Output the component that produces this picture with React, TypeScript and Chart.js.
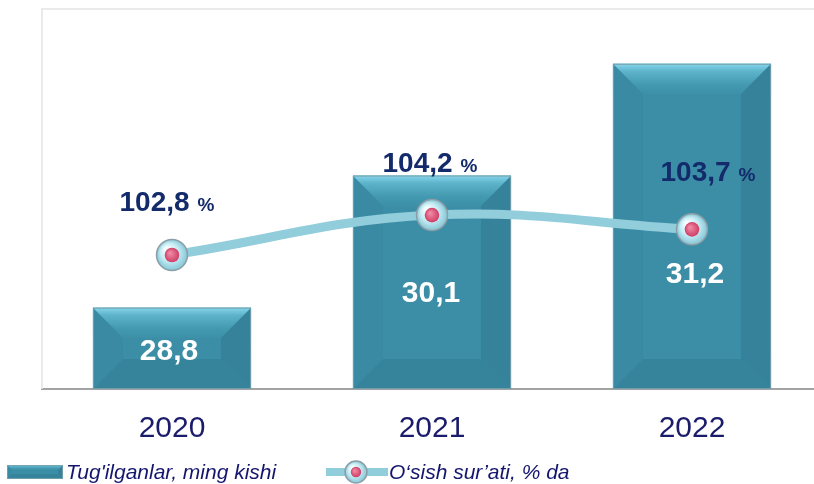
import React, { useEffect, useRef } from "react";
import { Chart, registerables } from "chart.js";

Chart.register(...registerables);

const YEARS = ["2020", "2021", "2022"];
const BIRTHS = [28.8, 30.1, 31.2];
const GROWTH = [102.8, 104.2, 103.7];
const LEGEND_BARS = "Tug'ilganlar, ming kishi";
const LEGEND_LINE = "O\u2018sish sur\u2019ati, % da";

const Y_MIN = 28;
const Y_MAX = 31.74;
const Y2_MIN = 98.1;
const Y2_MAX = 111.43;

// label layout offsets (px)
const PCT_OFFSETS = [[-5, -44], [-2, -43], [16, -48]];
const VAL_OFFSETS = [[-3, 52], [-1, 126], [3, 219]];

const FONT = "'Liberation Sans', Arial, sans-serif";
const NAVY = "#132a6b";

const fmt = (v: number) => v.toFixed(1).replace(".", ",");

function drawBevelBar(ctx: CanvasRenderingContext2D, L: number, T: number, R: number, B: number, maxB: number) {
  const h = B - T;
  const b = Math.max(2, Math.min(maxB, h / 2 - 2));
  ctx.save();
  ctx.fillStyle = "#3b8ea6";
  ctx.fillRect(L, T, R - L, B - T);
  const poly = (pts: number[][], fill: string | CanvasGradient) => {
    ctx.beginPath();
    ctx.moveTo(pts[0][0], pts[0][1]);
    for (let i = 1; i < pts.length; i++) ctx.lineTo(pts[i][0], pts[i][1]);
    ctx.closePath();
    ctx.fillStyle = fill;
    ctx.fill();
  };
  poly([[L, T], [L + b, T + b], [L + b, B - b], [L, B]], "#398aa2");
  poly([[R, T], [R - b, T + b], [R - b, B - b], [R, B]], "#35829a");
  poly([[L, B], [L + b, B - b], [R - b, B - b], [R, B]], "#36849b");
  const g = ctx.createLinearGradient(0, T, 0, T + b);
  g.addColorStop(0, "#86d6ec");
  g.addColorStop(0.25, "#5db3ca");
  g.addColorStop(0.7, "#4299b0");
  g.addColorStop(1, "#3d91a9");
  poly([[L, T], [R, T], [R - b, T + b], [L + b, T + b]], g);
  ctx.strokeStyle = "rgba(120,160,172,0.9)";
  ctx.lineWidth = 1;
  ctx.strokeRect(L + 0.5, T + 0.5, R - L - 1, B - T - 1);
  ctx.restore();
}

function drawMarker(ctx: CanvasRenderingContext2D, x: number, y: number, r: number) {
  ctx.save();
  const g = ctx.createRadialGradient(x - r * 0.35, y - r * 0.4, r * 0.1, x, y, r);
  g.addColorStop(0, "#f6feff");
  g.addColorStop(0.55, "#c4ebf3");
  g.addColorStop(1, "#84c6d6");
  ctx.beginPath();
  ctx.arc(x, y, r, 0, Math.PI * 2);
  ctx.fillStyle = g;
  ctx.fill();
  ctx.lineWidth = 1.5;
  ctx.strokeStyle = "#8d9ea6";
  ctx.stroke();
  const ri = r * 0.47;
  const g2 = ctx.createRadialGradient(x - ri * 0.3, y - ri * 0.3, ri * 0.1, x, y, ri);
  g2.addColorStop(0, "#f08aa4");
  g2.addColorStop(1, "#cf3e67");
  ctx.beginPath();
  ctx.arc(x, y, ri, 0, Math.PI * 2);
  ctx.fillStyle = g2;
  ctx.fill();
  ctx.restore();
}

const decorPlugin = {
  id: "decor",
  beforeDatasetsDraw(chart: any) {
    const { ctx, chartArea } = chart;
    ctx.save();
    ctx.strokeStyle = "#e4e4e4";
    ctx.lineWidth = 1.5;
    ctx.beginPath();
    ctx.moveTo(chartArea.left, chartArea.bottom);
    ctx.lineTo(chartArea.left, chartArea.top);
    ctx.lineTo(chartArea.right, chartArea.top);
    ctx.stroke();
    ctx.restore();
  },
  afterDatasetDraw(chart: any, args: any) {
    if (args.index !== 0) return;
    const { ctx } = chart;
    const meta = chart.getDatasetMeta(0);
    meta.data.forEach((bar: any) => {
      const p = bar.getProps(["x", "y", "base", "width"], true);
      drawBevelBar(ctx, p.x - p.width / 2, p.y, p.x + p.width / 2, p.base, 30);
    });
  },
  afterDatasetsDraw(chart: any) {
    const { ctx } = chart;
    const barMeta = chart.getDatasetMeta(0);
    const lineMeta = chart.getDatasetMeta(1);
    ctx.save();
    ctx.fillStyle = "#ffffff";
    ctx.font = `bold 30px ${FONT}`;
    ctx.textAlign = "center";
    ctx.textBaseline = "alphabetic";
    barMeta.data.forEach((bar: any, i: number) => {
      const p = bar.getProps(["x", "y"], true);
      ctx.fillText(fmt(BIRTHS[i]), p.x + VAL_OFFSETS[i][0], p.y + VAL_OFFSETS[i][1]);
    });
    lineMeta.data.forEach((pt: any) => {
      const p = pt.getProps(["x", "y"], true);
      drawMarker(ctx, p.x, p.y, 15.5);
    });
    lineMeta.data.forEach((pt: any, i: number) => {
      const p = pt.getProps(["x", "y"], true);
      const num = fmt(GROWTH[i]);
      ctx.font = `bold 28px ${FONT}`;
      const w1 = ctx.measureText(num).width;
      const gap = 8;
      ctx.font = `bold 19px ${FONT}`;
      const w2 = ctx.measureText("%").width;
      const total = w1 + gap + w2;
      const cx = p.x + PCT_OFFSETS[i][0];
      const by = p.y + PCT_OFFSETS[i][1];
      const x0 = cx - total / 2;
      ctx.textAlign = "left";
      ctx.fillStyle = NAVY;
      ctx.font = `bold 28px ${FONT}`;
      ctx.fillText(num, x0, by);
      ctx.font = `bold 19px ${FONT}`;
      ctx.fillText("%", x0 + w1 + gap, by);
    });
    ctx.restore();
  },
  afterDraw(chart: any) {
    const { ctx } = chart;
    ctx.save();
    drawBevelBar(ctx, 7, 465, 63, 479, 6);
    ctx.fillStyle = "#14166e";
    ctx.font = `italic 21px ${FONT}`;
    ctx.textAlign = "left";
    ctx.textBaseline = "alphabetic";
    ctx.fillText(LEGEND_BARS, 66, 479);
    ctx.strokeStyle = "#92cddc";
    ctx.lineWidth = 8;
    ctx.lineCap = "butt";
    ctx.beginPath();
    ctx.moveTo(326, 472);
    ctx.lineTo(388, 472);
    ctx.stroke();
    drawMarker(ctx, 356, 472, 11);
    ctx.fillStyle = "#14166e";
    ctx.fillText(LEGEND_LINE, 389, 479);
    ctx.restore();
  },
};

export default function App() {
  const ref = useRef<HTMLCanvasElement | null>(null);
  useEffect(() => {
    document.body.style.margin = "0";
    const canvas = ref.current;
    if (!canvas) return;
    const chart = new Chart(canvas, {
      type: "bar",
      data: {
        labels: YEARS,
        datasets: [
          {
            type: "bar",
            label: LEGEND_BARS,
            data: BIRTHS,
            base: Y_MIN,
            backgroundColor: "#3b8ea6",
            borderWidth: 0,
            barPercentage: 0.608,
            categoryPercentage: 1,
            yAxisID: "y",
            order: 2,
          },
          {
            type: "line",
            label: LEGEND_LINE,
            data: GROWTH,
            borderColor: "#92cddc",
            borderWidth: 9,
            tension: 0.4,
            pointRadius: 0,
            fill: false,
            yAxisID: "y2",
            order: 1,
          },
        ] as any,
      },
      options: {
        responsive: false,
        animation: false,
        layout: { padding: { left: 42, right: 8, top: 9, bottom: 15 } },
        plugins: {
          legend: { display: false },
          tooltip: { enabled: false },
        },
        scales: {
          x: {
            grid: { display: false, drawTicks: false },
            border: { display: true, color: "#a3a3a3", width: 2 },
            ticks: {
              color: "#1b1b6b",
              font: { family: FONT, size: 30 },
              padding: 22,
            },
          },
          y: {
            display: false,
            min: Y_MIN,
            max: Y_MAX,
          },
          y2: {
            display: false,
            min: Y2_MIN,
            max: Y2_MAX,
          },
        },
      },
      plugins: [decorPlugin],
    });
    return () => chart.destroy();
  }, []);
  return (
    <div style={{ width: 814, height: 484, overflow: "hidden", position: "relative" }}>
      <canvas ref={ref} width={830} height={484} style={{ position: "absolute", left: 0, top: 0 }} />
    </div>
  );
}
